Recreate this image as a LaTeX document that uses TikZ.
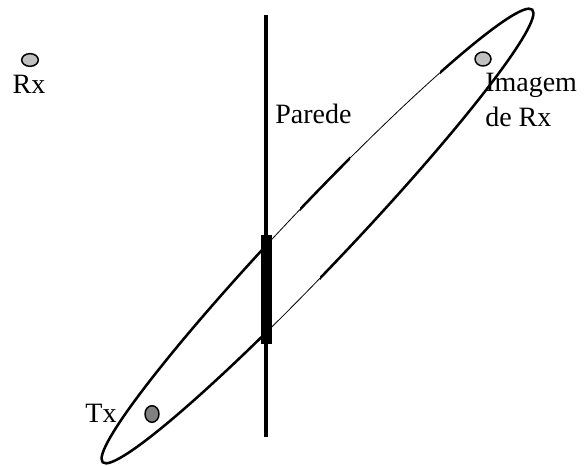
\documentclass[tikz,border=0pt]{standalone}
\usepackage{fontspec}
\setmainfont{Liberation Serif}
\usetikzlibrary{shapes.geometric}

\tikzset{
  antena/.style={ellipse, draw, line width=1.1pt, inner sep=0pt},
  rotulo/.style={font=\fontsize{21}{26}\selectfont, inner sep=0pt},
  percurso/.style={rotate around={-46.5:(317.5,236)}},
}

\begin{document}
\begin{tikzpicture}[x=0.75pt,y=0.75pt,yscale=-1,xscale=1]
\useasboundingbox (0,0) rectangle (585,466);

%Shape: Ellipse (percurso refletido) thin part
\draw [line width=0.6] [percurso] (317.5,236) ellipse [x radius=312, y radius=31];
%Shape: Ellipse thick parts
\begin{scope}
\clip (0,0) rectangle (263,466)
      (300,0) rectangle (350,230)
      (320,466) -- (320,262) -- (440,135) -- (440,0) -- (585,0) -- (585,466) -- cycle;
\draw [line width=1.9] [percurso] (317.5,236) ellipse [x radius=312, y radius=31];
\end{scope}

%Straight Lines: Parede
\draw [line width=3.2]    (266,15) -- (266,437) ;
%Shape: Rectangle (trecho grosso da parede)
\fill (261,235) rectangle (272,344) ;

% Antenas
\node [antena, fill={rgb,255:red,192;green,192;blue,192}, minimum width=12.5pt, minimum height=9.5pt] (rx) at (30,60) {};
\node [antena, fill={rgb,255:red,192;green,192;blue,192}, minimum width=12pt, minimum height=10.5pt] (img) at (483,59) {};
\node [antena, fill={rgb,255:red,128;green,128;blue,128}, minimum width=10.5pt, minimum height=12.5pt] (tx) at (152,414) {};

% Text Node
\node [rotulo] (lrx) at (29,84) {Rx};
% Text Node
\node [rotulo, anchor=west] (lparede) at (275,114) {Parede};
% Text Node
\node [rotulo, anchor=north west, align=left] (limg) at (485,73) {Imagem\\de Rx};
% Text Node
\node [rotulo] (ltx) at (101,413) {Tx};

\end{tikzpicture}
\end{document}
